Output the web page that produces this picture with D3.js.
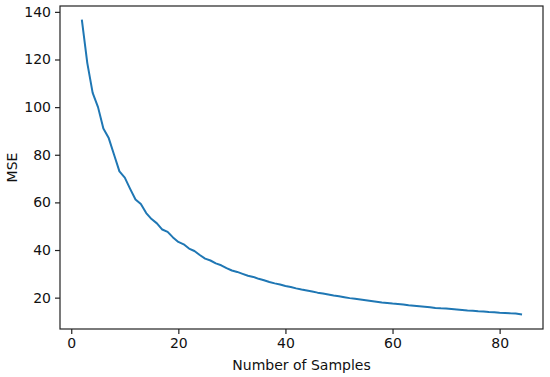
<!DOCTYPE html>
<html>
<head>
<meta charset="utf-8">
<script src="https://cdn.jsdelivr.net/npm/d3@7"></script>
<style>
  body { margin: 0; background: #fff; }
  svg { font-family: "DejaVu Sans", sans-serif; }
</style>
</head>
<body>
<svg width="550" height="377"></svg>
<script>
// number of samples 2..84
const samples = d3.range(2, 85);
const mse = [
  136.3, 118.5, 106.0, 100.0, 91.0, 87.0, 80.0, 73.0, 70.4, 65.7,
  61.2, 59.3, 55.5, 53.0, 51.2, 48.6, 47.6, 45.3, 43.4, 42.4,
  40.6, 39.6, 37.9, 36.4, 35.6, 34.4, 33.6, 32.4, 31.4, 30.8,
  30.0, 29.2, 28.7, 27.9, 27.3, 26.6, 26.0, 25.5, 24.9, 24.5,
  23.9, 23.4, 23.0, 22.6, 22.1, 21.7, 21.3, 20.9, 20.6, 20.2,
  19.8, 19.5, 19.2, 18.9, 18.6, 18.3, 18.0, 17.8, 17.5, 17.3,
  17.1, 16.8, 16.6, 16.4, 16.2, 16.0, 15.7, 15.5, 15.4, 15.2,
  15.0, 14.8, 14.6, 14.5, 14.3, 14.2, 14.0, 13.9, 13.7, 13.6,
  13.4, 13.3, 13.0
];
const xTicks = [0, 20, 40, 60, 80];
const yTicks = [20, 40, 60, 80, 100, 120, 140];

const margin = {left: 60, top: 6, right: 550 - 543, bottom: 377 - 329};
const W = 550, H = 377;
const fontSize = "14px";
const svg = d3.select("svg");

const data = samples.map((s, i) => [s, mse[i]]);

// matplotlib-style 5% padding
const xr = d3.extent(samples), yr = d3.extent(mse);
const xp = (xr[1] - xr[0]) * 0.05, yp = (yr[1] - yr[0]) * 0.05;

const x = d3.scaleLinear()
  .domain([xr[0] - xp, xr[1] + xp])
  .range([margin.left, W - margin.right]);
const y = d3.scaleLinear()
  .domain([yr[0] - yp, yr[1] + yp])
  .range([H - margin.bottom, margin.top]);

const line = d3.line().x(d => x(d[0])).y(d => y(d[1]));

svg.append("path")
  .datum(data)
  .attr("fill", "none")
  .attr("stroke", "#1f77b4")
  .attr("stroke-width", 2)
  .attr("stroke-linejoin", "round")
  .attr("stroke-linecap", "square")
  .attr("d", line);

// frame
svg.append("rect")
  .attr("x", margin.left).attr("y", margin.top)
  .attr("width", W - margin.right - margin.left)
  .attr("height", H - margin.bottom - margin.top)
  .attr("fill", "none").attr("stroke", "#222").attr("stroke-width", 1.2);

const xAxis = svg.append("g")
  .attr("transform", `translate(0,${H - margin.bottom})`)
  .call(d3.axisBottom(x).tickValues(xTicks).tickSize(5).tickPadding(4).tickFormat(d3.format("d")));
const yAxis = svg.append("g")
  .attr("transform", `translate(${margin.left},0)`)
  .call(d3.axisLeft(y).tickValues(yTicks).tickSize(5).tickPadding(4).tickFormat(d3.format("d")));

[xAxis, yAxis].forEach(g => {
  g.select(".domain").remove();
  g.selectAll("line").attr("stroke", "#222").attr("stroke-width", 1.2);
  g.selectAll("text").attr("fill", "#111").style("font-size", fontSize).style("font-family", "DejaVu Sans");
});

svg.append("text")
  .attr("x", (margin.left + W - margin.right) / 2)
  .attr("y", 370)
  .attr("text-anchor", "middle")
  .attr("fill", "#111")
  .style("font-size", fontSize)
  .text("Number of Samples");

svg.append("text")
  .attr("transform", `translate(17,${(margin.top + H - margin.bottom) / 2}) rotate(-90)`)
  .attr("text-anchor", "middle")
  .attr("fill", "#111")
  .style("font-size", fontSize)
  .text("MSE");
</script>
</body>
</html>
